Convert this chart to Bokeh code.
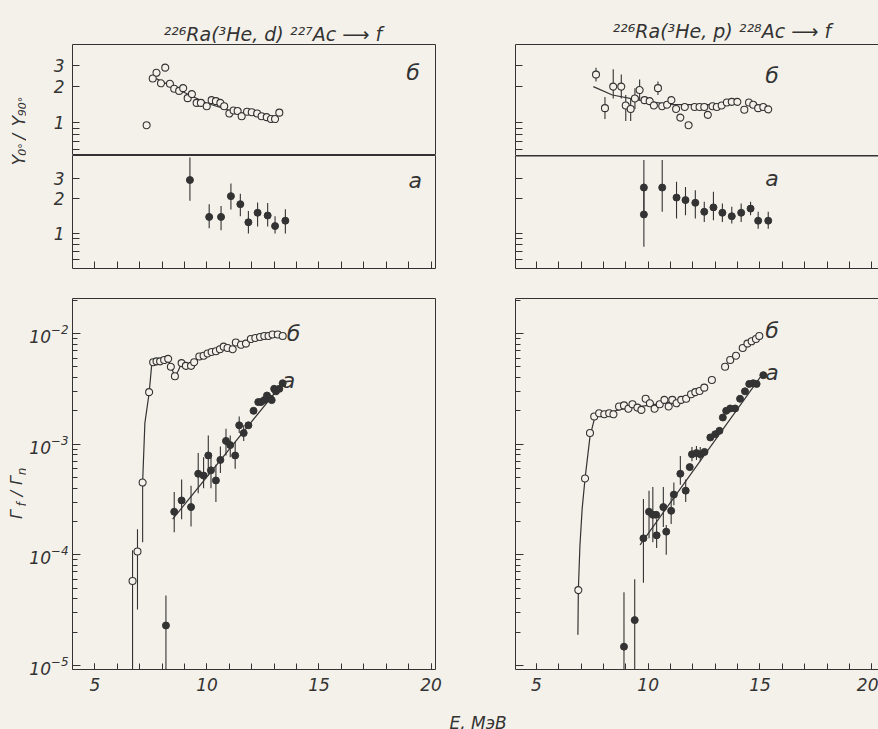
import math
from bokeh.plotting import figure
from bokeh.layouts import row, column
from bokeh.models import (FixedTicker, CustomJSTickFormatter, LogTickFormatter, Label,
                          LinearAxis, LogAxis, Range1d)
from bokeh.embed import file_html
from bokeh.resources import INLINE

BG = "#f4f1ea"
INK = "#333333"
FONT = "DejaVu Sans"

# ---------------- data ----------------
# top-left: 226Ra(3He,d)227Ac -> f, anisotropy Y0/Y90
tl_b_E = [7.31, 7.58, 7.75, 7.95, 8.14, 8.35, 8.54, 8.76, 8.94, 9.14, 9.33, 9.54, 9.73, 9.99, 10.21,
          10.40, 10.60, 10.77, 11.00, 11.19, 11.37, 11.55, 11.79, 12.00, 12.24, 12.44, 12.67, 12.86,
          13.04, 13.23]
tl_b_R = [0.95, 2.34, 2.61, 2.13, 2.88, 2.11, 1.92, 1.84, 1.94, 1.60, 1.73, 1.46, 1.46, 1.37, 1.54,
          1.51, 1.46, 1.37, 1.19, 1.26, 1.25, 1.13, 1.23, 1.22, 1.19, 1.13, 1.11, 1.07, 1.07, 1.21]
tl_b_fit_E = [7.6, 8.9, 10.0, 11.1, 11.9, 12.9]
tl_b_fit_R = [2.40, 1.82, 1.45, 1.25, 1.17, 1.10]

tl_a_E = [9.24, 10.10, 10.63, 11.07, 11.49, 11.85, 12.26, 12.71, 13.04, 13.50]
tl_a_R = [2.89, 1.39, 1.39, 2.10, 1.79, 1.25, 1.51, 1.43, 1.16, 1.29]
tl_a_lo = [1.92, 1.11, 1.07, 1.61, 1.41, 1.00, 1.15, 1.15, 1.00, 1.00]
tl_a_hi = [4.52, 1.79, 1.73, 2.70, 2.20, 1.56, 1.85, 1.83, 1.41, 1.62]

# top-right: 226Ra(3He,p)228Ac -> f
tr_b_E = [7.67, 8.07, 8.44, 8.80, 9.00, 9.22, 9.41, 9.62, 9.84, 10.07, 10.26, 10.44, 10.63, 10.85,
          11.04, 11.25, 11.44, 11.64, 11.81, 12.08, 12.30, 12.51, 12.67, 12.88, 13.07, 13.29, 13.52,
          13.74, 13.99, 14.30, 14.51, 14.70, 14.92, 15.15, 15.37]
tr_b_R = [2.52, 1.32, 2.00, 2.00, 1.39, 1.30, 1.59, 1.87, 1.54, 1.51, 1.39, 1.94, 1.37, 1.41,
          1.54, 1.30, 1.10, 1.35, 0.95, 1.35, 1.35, 1.35, 1.16, 1.37, 1.35, 1.39, 1.47,
          1.49, 1.49, 1.28, 1.47, 1.41, 1.32, 1.35, 1.29]
tr_b_err_E = [7.67, 8.07, 8.44, 8.80, 9.00, 9.22, 9.41, 9.62, 10.44]
tr_b_lo = [2.21, 1.07, 1.59, 1.59, 1.03, 1.03, 1.30, 1.54, 1.70]
tr_b_hi = [2.88, 1.64, 2.79, 2.53, 1.70, 1.59, 1.94, 2.29, 2.21]
tr_b_fit_E = [7.55, 8.4, 9.6, 11.1, 13.3]
tr_b_fit_R = [2.00, 1.70, 1.54, 1.41, 1.41]

tr_a_E = [9.81, 9.81, 10.63, 11.27, 11.67, 12.11, 12.51, 12.92, 13.32, 13.74, 14.16, 14.58, 14.92, 15.37]
tr_a_R = [2.49, 1.46, 2.49, 2.04, 1.94, 1.84, 1.54, 1.68, 1.51, 1.41, 1.51, 1.64, 1.29, 1.29]
tr_a_lo = [1.49, 0.77, 1.54, 1.35, 1.44, 1.35, 1.26, 1.30, 1.26, 1.22, 1.26, 1.44, 1.10, 1.10]
tr_a_hi = [4.29, 2.70, 4.29, 2.79, 2.52, 2.36, 1.88, 2.29, 1.81, 1.70, 1.81, 1.88, 1.54, 1.54]

# bottom-left: Gamma_f / Gamma_n, 227Ac
bl_b_E = [6.68, 6.90, 7.13, 7.42, 7.60, 7.75, 7.91, 8.09, 8.27, 8.39, 8.57, 8.87, 9.06, 9.29, 9.43,
          9.66, 9.85, 10.03, 10.21, 10.40, 10.58, 10.75, 10.92, 11.15, 11.29, 11.52, 11.74, 11.96,
          12.16, 12.37, 12.56, 12.75, 12.93, 13.16, 13.38]
bl_b_G = [5.8e-5, 1.07e-4, 4.5e-4, 2.95e-3, 5.5e-3, 5.6e-3, 5.6e-3, 5.75e-3, 5.9e-3, 5.0e-3, 4.1e-3,
          5.4e-3, 5.1e-3, 5.1e-3, 5.5e-3, 6.2e-3, 6.3e-3, 6.6e-3, 6.8e-3, 6.9e-3, 7.2e-3, 7.6e-3,
          7.4e-3, 7.2e-3, 8.3e-3, 7.9e-3, 8.1e-3, 8.9e-3, 9.1e-3, 9.3e-3, 9.5e-3, 9.5e-3, 9.8e-3,
          9.8e-3, 9.5e-3]
bl_b_err_E = [6.68, 6.90, 7.13]
bl_b_lo = [8e-6, 3.2e-5, 1.3e-4]
bl_b_hi = [1.1e-4, 1.7e-4, 4.5e-4]
bl_b_fit_E = [7.13, 7.23, 7.42, 7.53, 7.62, 7.90, 8.27, 8.39, 8.57, 8.72, 8.87]
bl_b_fit_G = [4.5e-4, 1.55e-3, 2.9e-3, 5.1e-3, 5.5e-3, 5.6e-3, 5.9e-3, 5.0e-3, 4.1e-3, 4.6e-3, 5.4e-3]

bl_a_E = [8.17, 8.54, 8.87, 9.29, 9.61, 9.85, 10.06, 10.18, 10.40, 10.60, 10.85, 11.04, 11.26, 11.44,
          11.64, 11.85, 12.08, 12.29, 12.41, 12.56, 12.68, 12.83, 12.89, 13.00, 13.08, 13.23, 13.38]
bl_a_G = [2.3e-5, 2.45e-4, 3.1e-4, 2.7e-4, 5.4e-4, 5.2e-4, 7.9e-4, 5.8e-4, 4.7e-4, 7.2e-4, 1.07e-3,
          9.8e-4, 7.9e-4, 1.48e-3, 1.26e-3, 1.48e-3, 2.0e-3, 2.4e-3, 2.4e-3, 2.5e-3, 2.75e-3, 2.57e-3,
          2.5e-3, 3.16e-3, 3.0e-3, 3.16e-3, 3.55e-3]
bl_a_err_E = [8.17, 8.54, 8.87, 9.29, 9.61, 9.85, 10.06, 10.18, 10.40, 10.60, 10.85, 11.04, 11.26,
              11.44, 11.64]
bl_a_lo = [8e-6, 1.6e-4, 2.1e-4, 1.8e-4, 3.6e-4, 4.0e-4, 5.2e-4, 4.0e-4, 3.0e-4, 5.5e-4, 7.9e-4,
           7.6e-4, 6.0e-4, 1.26e-3, 1.07e-3]
bl_a_hi = [4.3e-5, 3.7e-4, 4.8e-4, 4.2e-4, 8.3e-4, 7.6e-4, 1.2e-3, 8.3e-4, 6.5e-4, 9.5e-4, 1.38e-3,
           1.2e-3, 1.05e-3, 1.78e-3, 1.48e-3]
bl_a_fit_E = [8.47, 13.38]
bl_a_fit_G = [2.1e-4, 3.55e-3]

# bottom-right: Gamma_f / Gamma_n, 228Ac
br_b_E = [6.88, 7.18, 7.40, 7.59, 7.81, 8.04, 8.26, 8.45, 8.70, 8.92, 9.12, 9.30, 9.52, 9.70, 9.89,
          10.08, 10.29, 10.52, 10.73, 10.92, 11.08, 11.27, 11.48, 11.70, 11.92, 12.11, 12.30, 12.51,
          12.85, 13.44, 13.67, 13.93, 14.23, 14.44, 14.63, 14.82, 14.97]
br_b_G = [4.8e-5, 4.9e-4, 1.26e-3, 1.78e-3, 1.9e-3, 1.86e-3, 1.9e-3, 1.86e-3, 2.19e-3, 2.24e-3,
          2.09e-3, 2.29e-3, 2.14e-3, 2.04e-3, 2.57e-3, 2.34e-3, 2.09e-3, 2.29e-3, 2.51e-3, 2.19e-3,
          2.51e-3, 2.34e-3, 2.51e-3, 2.57e-3, 2.82e-3, 2.95e-3, 3.02e-3, 3.24e-3, 3.8e-3, 5.0e-3,
          5.75e-3, 6.3e-3, 7.4e-3, 8.1e-3, 8.5e-3, 8.9e-3, 9.5e-3]
br_b_fit_E = [6.86, 6.88, 6.95, 7.05, 7.18, 7.40, 7.60, 7.80, 8.0, 9.0, 10.0, 11.0, 11.6]
br_b_fit_G = [1.9e-5, 4.8e-5, 1.2e-4, 2.6e-4, 4.9e-4, 1.17e-3, 1.7e-3, 1.86e-3, 1.9e-3, 2.1e-3,
              2.24e-3, 2.4e-3, 2.5e-3]

br_a_E = [8.92, 9.40, 9.79, 10.04, 10.21, 10.36, 10.38, 10.68, 10.81, 11.03, 11.15, 11.44, 11.68,
          11.86, 11.96, 12.16, 12.33, 12.52, 12.78, 13.00, 13.19, 13.34, 13.49, 13.67, 13.89, 14.11,
          14.33, 14.52, 14.70, 14.85, 15.15]
br_a_G = [1.48e-5, 2.57e-5, 1.41e-4, 2.45e-4, 2.3e-4, 2.3e-4, 1.5e-4, 2.7e-4, 1.62e-4, 2.5e-4,
          3.5e-4, 5.4e-4, 3.8e-4, 6.2e-4, 8.1e-4, 8.3e-4, 8.1e-4, 8.5e-4, 1.15e-3, 1.23e-3, 1.32e-3,
          1.74e-3, 2.0e-3, 2.1e-3, 2.1e-3, 2.57e-3, 3.0e-3, 3.5e-3, 3.55e-3, 3.5e-3, 4.2e-3]
br_a_err_E = [8.92, 9.40, 9.79, 10.04, 10.21, 10.38, 10.68, 10.81, 11.03, 11.15, 11.44, 11.68,
              11.96, 12.16, 12.33]
br_a_lo = [8e-6, 8e-6, 5.6e-5, 1.41e-4, 1.3e-4, 1.15e-4, 1.78e-4, 1.0e-4, 1.9e-4, 2.8e-4, 4.3e-4,
           3.0e-4, 7.0e-4, 7.2e-4, 7.0e-4]
br_a_hi = [4.6e-5, 6.0e-5, 3.2e-4, 3.8e-4, 4.1e-4, 2.1e-4, 4.1e-4, 1.86e-4, 3.3e-4, 4.5e-4, 7.8e-4,
           4.8e-4, 9.4e-4, 9.6e-4, 9.4e-4]
br_a_fit_E = [9.64, 15.08]
br_a_fit_G = [1.23e-4, 4.2e-3]

# axes
e_major = [5, 10, 15, 20]
e_minor = list(range(4, 21))
ratio_ticks = [0.6, 0.7, 0.8, 0.9, 1, 2, 3]
gamma_major = [1e-5, 1e-4, 1e-3, 1e-2]
gamma_minor = [m * 10.0 ** e for e in range(-6, -1) for m in range(2, 10)]

LEFT_X = (4.0, 20.2)
RIGHT_X = (4.07, 20.3)
B_Y = (0.53, 4.5)
A_Y = (0.50, 4.7)
G_Y = (9.2e-6, 2.07e-2)

EMPTY = "return ''"
UP = math.pi / 2


def base_fig(w, h, xr, yr, bl, br, bt, bb, outline):
    p = figure(width=w, height=h, x_range=Range1d(*xr), y_range=Range1d(*yr), y_axis_type="log",
               x_axis_location=None, y_axis_location=None, output_backend="svg",
               toolbar_location=None, min_border_left=bl, min_border_right=br,
               min_border_top=bt, min_border_bottom=bb, background_fill_color=BG,
               border_fill_color=BG)
    p.frame_align = False
    p.outline_line_color = INK if outline else None
    p.outline_line_width = 1
    p.grid.visible = False
    return p


def strip(w, h):
    # plain text panel: its frame is the whole canvas, data units = pixels (y up)
    p = figure(width=w, height=h, x_range=Range1d(0, w), y_range=Range1d(0, h),
               x_axis_location=None, y_axis_location=None, output_backend="svg",
               toolbar_location=None, min_border=0, background_fill_color=BG,
               border_fill_color=BG)
    p.frame_align = False
    p.outline_line_color = None
    p.grid.visible = False
    return p


def style_labels(ax, standoff):
    ax.major_label_text_font = FONT
    ax.major_label_text_font_style = "italic"
    ax.major_label_text_font_size = "17px"
    ax.major_label_text_color = INK
    ax.major_label_standoff = standoff


def add_x(p, where, ticks, minor=(), labels=False, line=True, tick_len=6, lw=1):
    ax = LinearAxis(ticker=FixedTicker(ticks=list(ticks), minor_ticks=list(minor)))
    ax.axis_line_color = INK if line else None
    ax.axis_line_width = lw
    ax.major_tick_line_color = INK
    ax.minor_tick_line_color = INK
    ax.major_tick_in = tick_len
    ax.major_tick_out = 0
    ax.minor_tick_in = tick_len
    ax.minor_tick_out = 0
    if labels:
        style_labels(ax, 8)
    else:
        ax.formatter = CustomJSTickFormatter(code=EMPTY)
        ax.major_label_standoff = 0
    p.add_layout(ax, where)


def add_y(p, ticks, minor=(), fmt=None, line=True, maj=7, mnr=5, standoff=6):
    ax = LogAxis(ticker=FixedTicker(ticks=list(ticks), minor_ticks=list(minor)))
    ax.formatter = fmt if fmt is not None else CustomJSTickFormatter(code=EMPTY)
    ax.axis_line_color = INK if line else None
    ax.major_tick_line_color = INK
    ax.minor_tick_line_color = INK
    ax.major_tick_in = maj
    ax.major_tick_out = 0
    ax.minor_tick_in = mnr
    ax.minor_tick_out = 0
    style_labels(ax, standoff)
    p.add_layout(ax, "left")


def txt(p, s, x, y, size="17px", angle=0.0, align="center", baseline="middle"):
    p.add_layout(Label(x=x, y=y, text=s, text_font=FONT, text_font_size=size,
                       text_font_style="italic", text_color=INK, angle=angle,
                       text_align=align, text_baseline=baseline))


def open_pts(p, x, y):
    p.scatter(x, y, size=7, marker="circle", fill_color=BG, line_color=INK, line_width=1.1)


def full_pts(p, x, y):
    p.scatter(x, y, size=7, marker="circle", fill_color=INK, line_color=INK, line_width=1)


def bars(p, x, lo, hi):
    p.segment(x0=x, y0=lo, x1=x, y1=hi, line_color=INK, line_width=1.1)


def curve(p, x, y):
    p.line(x, y, line_color=INK, line_width=1.2)


ratio_fmt_code = "return (tick == 1 || tick == 2 || tick == 3) ? tick.toFixed(0) : '';"

# ---------------- text strips ----------------
title_l = strip(448, 43)
txt(title_l, "²²⁶Ra(³He, d) ²²⁷Ac ⟶ f", 163, 10, size="19px", align="left", baseline="alphabetic")
title_r = strip(430, 43)
txt(title_r, "²²⁶Ra(³He, p) ²²⁸Ac ⟶ f", 164, 13, size="19px", align="left", baseline="alphabetic")

ystrip = strip(26, 686)
# Y0°/Y90°
txt(ystrip, "Y", 18.5, 569.5, size="17px", angle=UP, baseline="alphabetic")
txt(ystrip, "0°", 22, 580, size="11px", angle=UP, baseline="alphabetic")
txt(ystrip, "/", 18.5, 592.5, size="17px", angle=UP, baseline="alphabetic")
txt(ystrip, "Y", 18.5, 608.5, size="17px", angle=UP, baseline="alphabetic")
txt(ystrip, "90°", 22, 623, size="11px", angle=UP, baseline="alphabetic")
# Γf/Γn
txt(ystrip, "Γ", 16, 215, size="16px", angle=UP, baseline="alphabetic")
txt(ystrip, "f", 21.5, 225, size="12px", angle=UP, baseline="alphabetic")
txt(ystrip, "/", 16, 236, size="16px", angle=UP, baseline="alphabetic")
txt(ystrip, "Γ", 16, 249, size="16px", angle=UP, baseline="alphabetic")
txt(ystrip, "n", 21.5, 258, size="12px", angle=UP, baseline="alphabetic")

estrip = strip(430, 30)
txt(estrip, "E, МэВ", 1, 7, size="17px", align="left", baseline="alphabetic")

# ---------------- left column ----------------
tl_b = base_fig(422, 112, LEFT_X, B_Y, 46, 13, 1, 0, True)
add_y(tl_b, ratio_ticks, fmt=CustomJSTickFormatter(code=ratio_fmt_code), line=False, standoff=8)
curve(tl_b, tl_b_fit_E, tl_b_fit_R)
open_pts(tl_b, tl_b_E, tl_b_R)
txt(tl_b, "б", 19.2, 2.62, size="22px")

tl_a = base_fig(422, 127, LEFT_X, A_Y, 46, 13, 0, 14, True)
add_y(tl_a, ratio_ticks, fmt=CustomJSTickFormatter(code=ratio_fmt_code), line=False, standoff=8)
add_x(tl_a, "below", e_minor[1:], line=False, tick_len=7)
bars(tl_a, tl_a_E, tl_a_lo, tl_a_hi)
full_pts(tl_a, tl_a_E, tl_a_R)
txt(tl_a, "а", 19.3, 2.87, size="22px")

bl = base_fig(422, 447, LEFT_X, G_Y, 46, 13, 16, 60, True)
add_y(bl, gamma_major, gamma_minor, fmt=LogTickFormatter(), line=False, maj=8, mnr=5, standoff=4)
add_x(bl, "below", e_major, e_minor, labels=True, line=False, tick_len=6)
bars(bl, bl_b_err_E, bl_b_lo, bl_b_hi)
bars(bl, bl_a_err_E, bl_a_lo, bl_a_hi)
curve(bl, bl_b_fit_E, bl_b_fit_G)
curve(bl, bl_a_fit_E, bl_a_fit_G)
open_pts(bl, bl_b_E, bl_b_G)
full_pts(bl, bl_a_E, bl_a_G)
txt(bl, "б", 13.86, 1.0e-2, size="22px")
txt(bl, "а", 13.64, 3.75e-3, size="22px")

# ---------------- right column ----------------
tr_b = base_fig(430, 112, RIGHT_X, B_Y, 67, 0, 1, 0, False)
add_y(tr_b, ratio_ticks)
add_x(tr_b, "above", [])
curve(tr_b, tr_b_fit_E, tr_b_fit_R)
bars(tr_b, tr_b_err_E, tr_b_lo, tr_b_hi)
open_pts(tr_b, tr_b_E, tr_b_R)
txt(tr_b, "б", 15.54, 2.47, size="22px")

tr_a = base_fig(430, 127, RIGHT_X, A_Y, 67, 0, 0, 14, False)
add_y(tr_a, ratio_ticks)
add_x(tr_a, "above", [], lw=2)
add_x(tr_a, "below", e_minor[1:], tick_len=7)
bars(tr_a, tr_a_E, tr_a_lo, tr_a_hi)
full_pts(tr_a, tr_a_E, tr_a_R)
txt(tr_a, "а", 15.54, 2.98, size="22px")

br = base_fig(430, 417, RIGHT_X, G_Y, 67, 0, 16, 30, False)
add_y(br, gamma_major, gamma_minor, maj=8, mnr=5)
add_x(br, "above", [])
add_x(br, "below", e_major, e_minor, labels=True, tick_len=6)
bars(br, br_a_err_E, br_a_lo, br_a_hi)
curve(br, br_b_fit_E, br_b_fit_G)
curve(br, br_a_fit_E, br_a_fit_G)
open_pts(br, br_b_E, br_b_G)
full_pts(br, br_a_E, br_a_G)
txt(br, "б", 15.54, 1.06e-2, size="22px")
txt(br, "а", 15.54, 4.4e-3, size="22px")

left = column(title_l, row(ystrip, column(tl_b, tl_a, bl)))
right = column(title_r, tr_b, tr_a, br, estrip)
layout = row(left, right)
for obj in (layout, left, right):
    obj.styles = {"background-color": BG}

with open("out.html", "w") as f:
    f.write(file_html(layout, INLINE))
